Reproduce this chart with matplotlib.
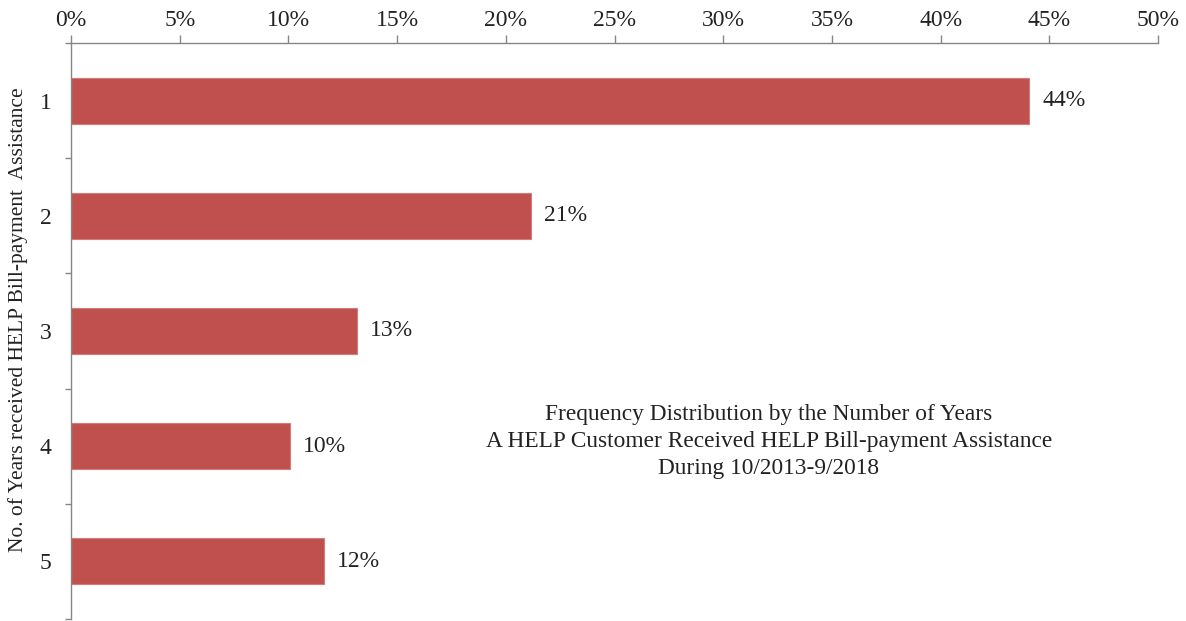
import matplotlib
matplotlib.use("Agg")
import matplotlib.pyplot as plt
import numpy as np
from matplotlib.ticker import FixedLocator

categories = ["1", "2", "3", "4", "5"]
values = [44.07, 21.16, 13.16, 10.07, 11.64]
labels = ["44%", "21%", "13%", "10%", "12%"]
xticks = [0, 5, 10, 15, 20, 25, 30, 35, 40, 45, 50]
xticklabels = [f"{t}%" for t in xticks]

plt.rcParams['font.family'] = ['Liberation Serif', 'DejaVu Serif']

fig = plt.figure(figsize=(11.86, 6.21), dpi=100)
ax = fig.add_axes([71/1186, 2/621, (1158-71)/1186, (619-43)/621])

y = np.arange(len(categories))
ax.barh(y, values, height=0.4, color="#C0504D", edgecolor="#D47C79", linewidth=0.8)
ax.set_ylim(len(categories) - 0.5, -0.5)
ax.set_xlim(0, 50)

ax.xaxis.tick_top()
ax.set_xticks(xticks)
ax.set_xticklabels(xticklabels, fontsize=17, color="#222222")
ax.tick_params(axis='x', direction='out', length=6, width=1, color="#868686", pad=3)

ax.set_yticks(y)
ax.set_yticklabels(categories, fontsize=17, color="#222222")
ax.tick_params(axis='y', which='major', length=0, pad=14)
ax.yaxis.set_minor_locator(FixedLocator(np.arange(-0.5, len(categories), 1.0)))
ax.tick_params(axis='y', which='minor', direction='out', length=4, width=1, color="#868686")

for s in ["right", "bottom"]:
    ax.spines[s].set_visible(False)
for s in ["top", "left"]:
    ax.spines[s].set_color("#868686")
    ax.spines[s].set_linewidth(1)

for yi, v, lab in zip(y, values, labels):
    ax.text(v + 0.6, yi, lab, va="center", ha="left", fontsize=17, color="#222222")

fig.text(18/1186, 1 - 320/621, "No. of Years received HELP Bill-payment  Assistance",
         rotation=90, ha="center", va="center", fontsize=15.5, color="#222222")

ax.text(32.1, 2.96, "Frequency Distribution by the Number of Years\nA HELP Customer Received HELP Bill-payment Assistance\nDuring 10/2013-9/2018",
        ha="center", va="center", fontsize=16.8, color="#222222", linespacing=1.4)

fig.savefig("out.png", dpi=100)
